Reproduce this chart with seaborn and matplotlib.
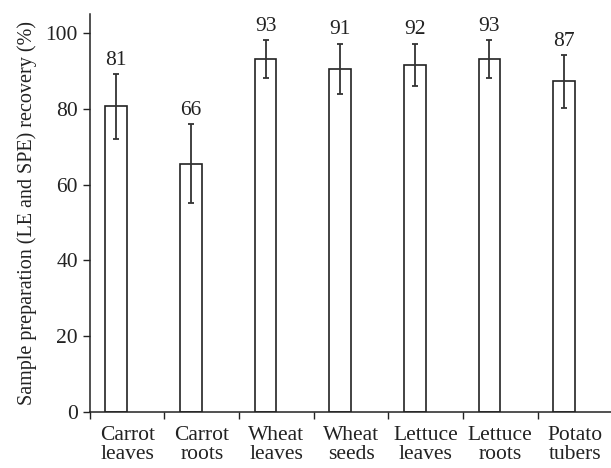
import numpy as np
import pandas as pd
import matplotlib
matplotlib.use('Agg')
import matplotlib.pyplot as plt
import seaborn as sns

# values
samples = ['Carrot\nleaves', 'Carrot\nroots', 'Wheat\nleaves', 'Wheat\nseeds',
           'Lettuce\nleaves', 'Lettuce\nroots', 'Potato\ntubers']
recovery = [80.6, 65.5, 93.1, 90.6, 91.6, 93.1, 87.2]
recovery_sd = [8.5, 10.5, 5.0, 6.6, 5.6, 5.0, 7.0]
recovery_labels = ['81', '66', '93', '91', '92', '93', '87']

# bars sit a little left of the category centre
pos = np.arange(len(samples)) - 0.145
df = pd.DataFrame({'pos': pos, 'recovery': recovery})

sns.set_style('ticks')
plt.rcParams['font.family'] = ['Liberation Serif', 'DejaVu Serif']
plt.rcParams['font.size'] = 15

fig = plt.figure(figsize=(6.11, 4.68), dpi=100)
ax = fig.add_axes([0.147, 0.12, 0.855, 0.85])

sns.barplot(data=df, x='pos', y='recovery', native_scale=True, width=0.29,
            color='white', edgecolor='#222222', linewidth=1.2,
            errorbar=None, ax=ax)
ax.errorbar(pos, recovery, yerr=recovery_sd, fmt='none', ecolor='#333333',
            elinewidth=1.3, capsize=2.4, capthick=1.3)

for x, y, e, lab in zip(pos, recovery, recovery_sd, recovery_labels):
    ax.annotate(lab, (x, y + e), xytext=(0, 3), textcoords='offset points',
                ha='center', va='bottom', fontsize=15.5, color='#222222')

ax.set_xlim(-0.5, len(samples) - 0.5)
ax.set_ylim(0, 105)
ax.set_yticks([0, 20, 40, 60, 80, 100])

# ticks at category boundaries, labels at the centres
ax.set_xticks(np.arange(len(samples) + 1) - 0.5)
ax.set_xticklabels([])
ax.set_xticks(np.arange(len(samples)), minor=True)
ax.set_xticklabels(samples, minor=True, linespacing=1.05)
ax.tick_params(axis='x', which='minor', length=0, pad=10)
ax.tick_params(axis='both', which='major', length=5, width=1.0, colors='#222222',
               labelcolor='#222222', labelsize=15.5)
ax.tick_params(axis='x', which='minor', labelsize=15.5, labelcolor='#222222')

ax.set_xlabel('')
ax.set_ylabel('Sample preparation (LE and SPE) recovery (%)', fontsize=14.5,
              color='#222222', labelpad=6)
sns.despine(ax=ax)
for s in ['left', 'bottom']:
    ax.spines[s].set_color('#222222')
    ax.spines[s].set_linewidth(1.1)

plt.savefig('out.png', dpi=100)
